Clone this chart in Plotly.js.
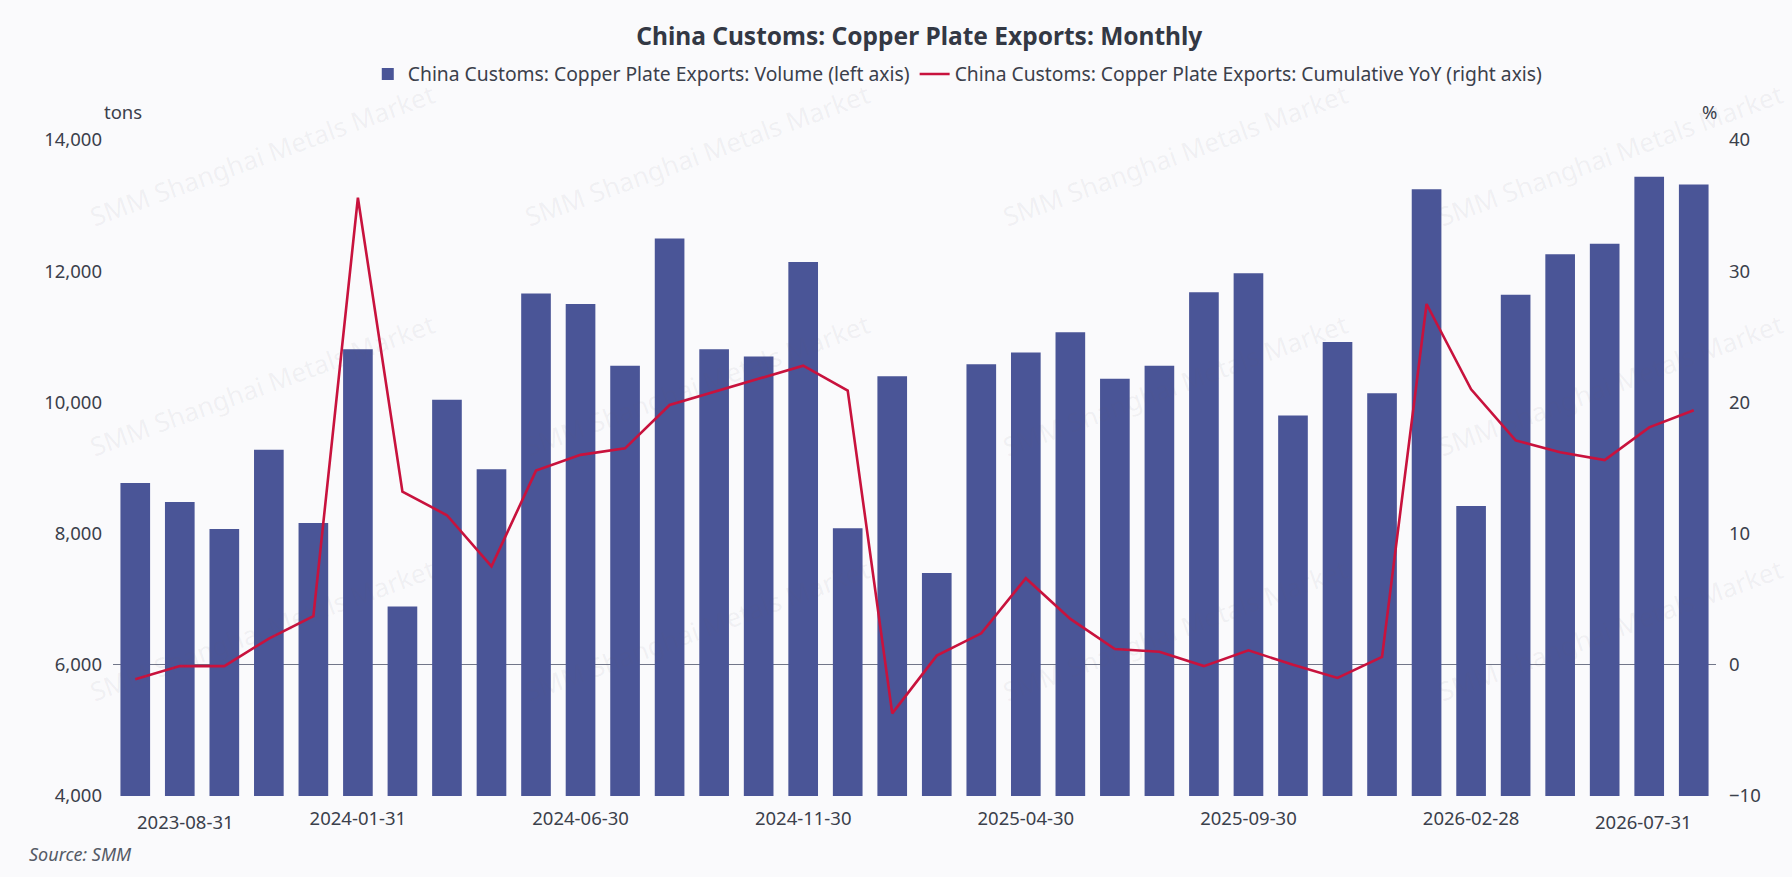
<!DOCTYPE html>
<html>
<head>
<meta charset="utf-8">
<script src="https://cdn.plot.ly/plotly-3.0.1.min.js"></script>
<style>
  html, body { margin: 0; padding: 0; background: #fafafc; }
  #chart { width: 1792px; height: 877px; }
</style>
</head>
<body>
<div id="chart"></div>
<script>
// China Customs copper plate exports, monthly volume + cumulative YoY
const FONT = "Noto Sans, Open Sans, sans-serif";
const BAR_COLOR = "#4a5597";
const LINE_COLOR = "#c8123d";
const TEXT_COLOR = "#3b404b";

const months = [
  "2023-08-31", "2023-09-30", "2023-10-31", "2023-11-30", "2023-12-31", "2024-01-31",
  "2024-02-29", "2024-03-31", "2024-04-30", "2024-05-31", "2024-06-30", "2024-07-31",
  "2024-08-31", "2024-09-30", "2024-10-31", "2024-11-30", "2024-12-31", "2025-01-31",
  "2025-02-28", "2025-03-31", "2025-04-30", "2025-05-31", "2025-06-30", "2025-07-31",
  "2025-08-31", "2025-09-30", "2025-10-31", "2025-11-30", "2025-12-31", "2026-01-31",
  "2026-02-28", "2026-03-31", "2026-04-30", "2026-05-31", "2026-06-30", "2026-07-31",
];

// tons
const volume = [
  8770, 8480, 8070, 9280, 8160, 10810,
  6890, 10040, 8980, 11660, 11500, 10560,
  12500, 10810, 10700, 12140, 8080, 10400,
  7400, 10580, 10760, 11070, 10360, 10560,
  11680, 11970, 9800, 10920, 10140, 13250,
  8420, 11640, 12260, 12420, 13440, 13320,
];

// %
const cumulativeYoY = [
  -1.1, -0.1, -0.1, 2.0, 3.7, 35.6,
  13.2, 11.4, 7.5, 14.8, 16.0, 16.5,
  19.8, 20.8, 21.8, 22.8, 20.9, -3.7,
  0.7, 2.4, 6.6, 3.5, 1.2, 1.0,
  -0.1, 1.1, 0.0, -1.0, 0.6, 27.5,
  21.0, 17.1, 16.2, 15.6, 18.1, 19.4,
];

const tickMonths = ["2024-01-31", "2024-06-30", "2024-11-30", "2025-04-30", "2025-09-30", "2026-02-28"];
const firstLabel = "2023-08-31";
const lastLabel = "2026-07-31";

const volumeName = "China Customs: Copper Plate Exports: Volume (left axis)";
const yoyName = "China Customs: Copper Plate Exports: Cumulative YoY (right axis)";

const bars = {
  x: months,
  y: volume,
  type: "bar",
  name: volumeName,
  marker: { color: BAR_COLOR, line: { width: 0 } },
  yaxis: "y",
  hovertemplate: "%{x}: %{y:,}<extra></extra>",
};

const line = {
  x: months,
  y: cumulativeYoY,
  type: "scatter",
  mode: "lines",
  name: yoyName,
  line: { color: LINE_COLOR, width: 2.6 },
  yaxis: "y2",
  hovertemplate: "%{x}: %{y:.1f}%<extra></extra>",
};

// faint watermark grid (pixel centres on the 1792x877 canvas)
const wmX = [262, 697, 1175, 1610];
const wmY = [155, 385, 630];
const watermarks = [];
wmY.forEach((py) => {
  wmX.forEach((px) => {
    watermarks.push({
      text: "SMM Shanghai Metals Market",
      xref: "paper",
      yref: "paper",
      x: (px - 113) / 1603,
      y: (796 - py) / 656,
      xanchor: "center",
      yanchor: "middle",
      showarrow: false,
      textangle: -20,
      font: { family: FONT, size: 26, color: "rgba(90,95,120,0.075)" },
    });
  });
});

const tickFont = { family: FONT, size: 18.5, color: TEXT_COLOR };

const annotations = [
  ...watermarks,
  // end labels aligned like the original (first left, last right)
  { text: firstLabel, xref: "x", yref: "paper", x: firstLabel, y: 0, yshift: -25,
    xanchor: "left", yanchor: "middle", showarrow: false, font: tickFont },
  { text: lastLabel, xref: "x", yref: "paper", x: lastLabel, y: 0, yshift: -25,
    xanchor: "right", yanchor: "middle", showarrow: false, font: tickFont },
  { text: "tons", xref: "paper", yref: "paper", x: 0.0065, y: 1.044,
    xanchor: "center", yanchor: "middle", showarrow: false, font: tickFont },
  { text: "%", xref: "paper", yref: "paper", x: 0.996, y: 1.044,
    xanchor: "center", yanchor: "middle", showarrow: false, font: tickFont },
  { text: "<i>Source: SMM</i>", xref: "paper", yref: "paper", x: -0.0537, y: -0.088,
    xanchor: "left", yanchor: "middle", showarrow: false,
    font: { family: FONT, size: 18, color: "#555a66" } },
];

const layout = {
  width: 1792,
  height: 877,
  paper_bgcolor: "#fafafc",
  plot_bgcolor: "#fafafc",
  margin: { l: 113, r: 76, t: 140, b: 81 },
  title: {
    text: "<b>China Customs: Copper Plate Exports: Monthly</b>",
    x: 0.513,
    xanchor: "center",
    y: 0.958,
    yanchor: "middle",
    font: { family: FONT, size: 24.5, color: "#333844" },
  },
  showlegend: true,
  legend: {
    orientation: "h",
    x: 0.527,
    xanchor: "center",
    y: 1.1,
    yanchor: "middle",
    font: { family: FONT, size: 19.3, color: TEXT_COLOR },
    bgcolor: "rgba(0,0,0,0)",
    itemwidth: 30,
    tracegroupgap: 0,
  },
  bargap: 0.334,
  xaxis: {
    type: "category",
    range: [-0.5, months.length - 0.5],
    tickmode: "array",
    tickvals: tickMonths,
    ticktext: tickMonths,
    ticks: "",
    showgrid: false,
    showline: false,
    zeroline: false,
    tickfont: tickFont,
    ticklabelstandoff: 9,
    automargin: false,
  },
  yaxis: {
    range: [4000, 14000],
    dtick: 2000,
    tickformat: ",",
    showgrid: false,
    zeroline: false,
    showline: false,
    ticks: "",
    tickfont: tickFont,
    ticklabelstandoff: 10,
    automargin: false,
  },
  yaxis2: {
    overlaying: "y",
    side: "right",
    range: [-10, 40],
    dtick: 10,
    showgrid: false,
    zeroline: true,
    zerolinecolor: "#717689",
    zerolinewidth: 1.2,
    showline: false,
    ticks: "",
    tickfont: tickFont,
    ticklabelstandoff: 12,
    automargin: false,
  },
  annotations,
};

Plotly.newPlot("chart", [bars, line], layout, { displayModeBar: false, responsive: false });
</script>
</body>
</html>
